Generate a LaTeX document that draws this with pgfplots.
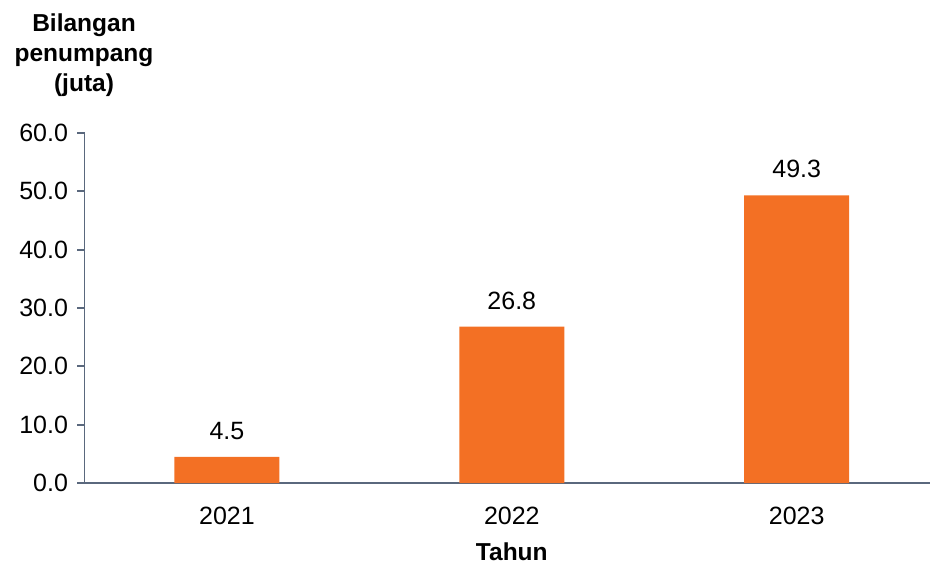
\documentclass[border=0pt]{standalone}
\usepackage{fontspec}
\setmainfont{Liberation Sans}
\usepackage{pgfplots}
\pgfplotsset{compat=1.18}

\definecolor{barorange}{RGB}{243,112,36}
\definecolor{axisgray}{RGB}{90,104,125}

\begin{document}
\begin{tikzpicture}[x=1pt,y=1pt]
\path[use as bounding box] (0,0) rectangle (930,563);
\begin{axis}[
    at={(84.5pt,80pt)}, anchor=south west,
    scale only axis,
    width=845.5pt, height=350pt,
    ybar, bar width=105pt,
    xmin=-0.5, xmax=2.468,
    ymin=0, ymax=60,
    xtick={0,1,2},
    xticklabels={2021,2022,2023},
    ytick={0,10,...,60},
    axis x line=bottom, axis y line=left,
    axis line style={-, draw=axisgray, line width=1.8pt},
    tick align=outside,
    major tick length=7pt,
    xtick style={draw=none},
    ytick style={draw=axisgray, line width=1.8pt},
    /pgf/number format/assume math mode=true,
    /pgf/number format/fixed,
    /pgf/number format/fixed zerofill,
    /pgf/number format/precision=1,
    ticklabel style={font=\fontsize{25}{30}\selectfont},
    yticklabel style={xshift=-6pt},
    xticklabel style={yshift=-14pt},
    nodes near coords,
    nodes near coords style={font=\fontsize{25}{30}\selectfont, inner sep=0pt, yshift=17pt},
    xlabel={\textbf{Tahun}},
    xlabel style={font=\fontsize{24.5}{30}\selectfont, inner sep=0pt, at={(axis cs:1,0)}, anchor=center, yshift=-69pt},
    clip=false,
]
\addplot[fill=barorange, draw=none] coordinates {
    (0, 4.5) (1, 26.8) (2, 49.3)
};
\end{axis}
\node[anchor=north, inner sep=0pt, align=center, font=\fontsize{24.5}{30}\selectfont\bfseries]
    at (84,549) {Bilangan\\penumpang\\(juta)};
\end{tikzpicture}
\end{document}
